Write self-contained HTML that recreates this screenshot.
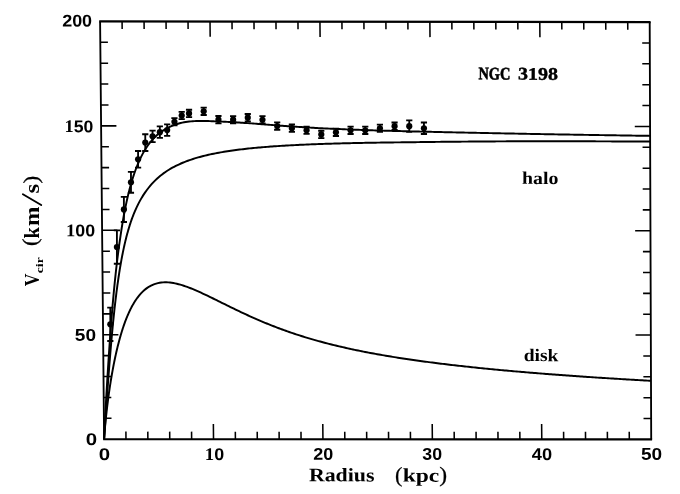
<!DOCTYPE html>
<html><head><meta charset="utf-8"><title>NGC 3198 rotation curve</title>
<style>html,body{margin:0;padding:0;background:#fff;}body{width:680px;height:494px;overflow:hidden;font-family:"Liberation Serif",serif;}svg{display:block;filter:blur(0.3px);}</style>
</head><body>
<svg width="680" height="494" viewBox="0 0 680 494">
<rect width="680" height="494" fill="#fff"/>
<g fill="none" stroke="#000" stroke-width="1.95" stroke-linejoin="miter">
<path d="M99.19999999999999,21.4 L650.6,22.1 M103.19999999999999,439.2 L652.1,439.4" stroke-width="2.15"/>
<path d="M100.1,21.4 L104.1,439.2 M649.7,22.1 L651.2,439.4" stroke-width="1.85"/>
<path d="M125.98,439.21 L125.91,431.61 M122.08,21.43 L122.16,29.03 M147.87,439.22 L147.80,431.62 M144.07,21.46 L144.14,29.06 M169.75,439.22 L169.68,431.62 M166.05,21.48 L166.12,29.08 M191.64,439.23 L191.56,431.63 M188.04,21.51 L188.11,29.11 M213.52,439.24 L213.37,423.94 M210.02,21.54 L210.17,36.84 M235.40,439.25 L235.33,431.65 M232.00,21.57 L232.08,29.17 M257.29,439.26 L257.22,431.66 M253.99,21.60 L254.06,29.20 M279.17,439.26 L279.10,431.66 M275.97,21.62 L276.04,29.22 M301.06,439.27 L300.98,431.67 M297.96,21.65 L298.03,29.25 M322.94,439.28 L322.79,423.98 M319.94,21.68 L320.09,36.98 M344.82,439.29 L344.75,431.69 M341.92,21.71 L342.00,29.31 M366.71,439.30 L366.64,431.70 M363.91,21.74 L363.98,29.34 M388.59,439.30 L388.52,431.70 M385.89,21.76 L385.96,29.36 M410.48,439.31 L410.40,431.71 M407.88,21.79 L407.95,29.39 M432.36,439.32 L432.21,424.02 M429.86,21.82 L430.01,37.12 M454.24,439.33 L454.17,431.73 M451.84,21.85 L451.92,29.45 M476.13,439.34 L476.06,431.74 M473.83,21.88 L473.90,29.48 M498.01,439.34 L497.94,431.74 M495.81,21.90 L495.88,29.50 M519.90,439.35 L519.82,431.75 M517.80,21.93 L517.87,29.53 M541.78,439.36 L541.63,424.06 M539.78,21.96 L539.93,37.26 M563.66,439.37 L563.59,431.77 M561.76,21.99 L561.84,29.59 M585.55,439.38 L585.48,431.78 M583.75,22.02 L583.82,29.62 M607.43,439.38 L607.36,431.78 M605.73,22.04 L605.80,29.64 M629.32,439.39 L629.24,431.79 M627.72,22.07 L627.79,29.67 M103.90,418.31 L111.50,418.31 M651.12,418.53 L643.52,418.53 M103.70,397.42 L111.30,397.42 M651.05,397.67 L643.45,397.67 M103.50,376.53 L111.10,376.53 M650.98,376.81 L643.38,376.81 M103.30,355.64 L110.90,355.64 M650.90,355.94 L643.30,355.94 M103.10,334.75 L118.40,334.75 M650.83,335.07 L635.53,335.07 M102.90,313.86 L110.50,313.86 M650.75,314.21 L643.15,314.21 M102.70,292.97 L110.30,292.97 M650.68,293.35 L643.08,293.35 M102.50,272.08 L110.10,272.08 M650.60,272.48 L643.00,272.48 M102.30,251.19 L109.90,251.19 M650.53,251.61 L642.93,251.61 M102.10,230.30 L117.40,230.30 M650.45,230.75 L635.15,230.75 M101.90,209.41 L109.50,209.41 M650.38,209.88 L642.77,209.88 M101.70,188.52 L109.30,188.52 M650.30,189.02 L642.70,189.02 M101.50,167.63 L109.10,167.63 M650.23,168.15 L642.62,168.15 M101.30,146.74 L108.90,146.74 M650.15,147.29 L642.55,147.29 M101.10,125.85 L116.40,125.85 M650.08,126.43 L634.78,126.43 M100.90,104.96 L108.50,104.96 M650.00,105.56 L642.40,105.56 M100.70,84.07 L108.30,84.07 M649.93,84.70 L642.33,84.70 M100.50,63.18 L108.10,63.18 M649.85,63.83 L642.25,63.83 M100.30,42.29 L107.90,42.29 M649.78,42.97 L642.18,42.97" stroke-width="1.55"/>
<path d="M104.10,439.20 L104.34,435.47 L104.58,432.28 L104.83,429.32 L105.07,426.52 L105.32,423.85 L105.57,421.29 L105.82,418.81 L106.07,416.41 L106.32,414.08 L106.57,411.82 L106.83,409.62 L107.08,407.47 L107.33,405.37 L107.59,403.32 L107.84,401.32 L108.10,399.35 L108.35,397.43 L108.61,395.55 L108.86,393.70 L109.12,391.89 L109.38,390.11 L109.63,388.37 L109.89,386.66 L110.15,384.97 L110.41,383.32 L110.67,381.70 L110.92,380.10 L111.18,378.53 L111.44,376.99 L111.70,375.47 L111.96,373.98 L112.22,372.51 L112.48,371.06 L112.74,369.64 L113.00,368.24 L113.26,366.86 L113.52,365.50 L113.78,364.16 L114.05,362.84 L114.31,361.54 L114.57,360.27 L114.83,359.01 L115.09,357.77 L115.36,356.54 L115.62,355.34 L115.88,354.15 L116.14,352.98 L116.41,351.83 L116.67,350.70 L116.93,349.58 L117.20,348.47 L117.46,347.38 L117.72,346.31 L117.99,345.26 L118.25,344.21 L118.52,343.19 L118.78,342.17 L119.04,341.17 L119.31,340.19 L119.57,339.22 L119.84,338.26 L120.10,337.32 L120.37,336.39 L120.63,335.47 L120.90,334.56 L121.16,333.67 L121.43,332.79 L121.70,331.93 L121.96,331.07 L122.23,330.23 L122.49,329.39 L122.76,328.57 L123.03,327.76 L123.29,326.97 L123.56,326.18 L123.83,325.40 L124.09,324.64 L124.36,323.88 L124.63,323.14 L124.89,322.41 L125.16,321.68 L125.43,320.97 L125.70,320.27 L125.96,319.57 L126.23,318.89 L126.50,318.22 L126.77,317.55 L127.03,316.90 L127.30,316.25 L127.57,315.61 L127.84,314.99 L128.11,314.37 L128.37,313.76 L128.64,313.15 L128.91,312.56 L129.18,311.98 L129.45,311.40 L129.72,310.83 L129.99,310.27 L130.25,309.72 L130.52,309.18 L130.79,308.64 L131.06,308.11 L131.33,307.59 L131.60,307.08 L131.87,306.57 L132.14,306.08 L132.41,305.59 L132.68,305.10 L132.95,304.63 L133.22,304.16 L133.49,303.70 L133.76,303.24 L134.03,302.79 L134.29,302.35 L134.56,301.92 L134.83,301.49 L135.10,301.07 L135.38,300.65 L135.65,300.24 L137.35,297.81 L139.05,295.62 L140.75,293.64 L142.46,291.87 L144.17,290.28 L145.88,288.88 L147.59,287.64 L149.30,286.55 L151.02,285.61 L152.73,284.81 L154.45,284.13 L156.17,283.57 L157.89,283.13 L159.61,282.78 L161.33,282.54 L163.05,282.38 L164.77,282.31 L166.49,282.32 L168.22,282.40 L169.94,282.55 L171.67,282.77 L173.39,283.04 L175.12,283.37 L176.84,283.75 L178.57,284.18 L180.30,284.65 L182.02,285.17 L183.75,285.72 L185.48,286.30 L187.21,286.92 L188.94,287.56 L190.66,288.24 L192.39,288.93 L194.12,289.65 L195.85,290.39 L197.58,291.15 L199.31,291.92 L201.04,292.71 L202.77,293.51 L204.50,294.32 L206.23,295.14 L207.96,295.97 L209.69,296.81 L211.42,297.65 L213.15,298.50 L214.88,299.35 L216.61,300.21 L218.34,301.06 L220.07,301.92 L221.80,302.78 L223.53,303.64 L225.25,304.49 L226.98,305.35 L228.71,306.20 L230.44,307.05 L232.17,307.89 L233.90,308.73 L235.63,309.57 L237.36,310.40 L239.09,311.23 L240.82,312.05 L242.55,312.86 L244.28,313.67 L246.00,314.47 L247.73,315.26 L249.46,316.05 L251.19,316.83 L252.92,317.60 L254.65,318.37 L256.38,319.13 L258.10,319.88 L259.83,320.62 L261.56,321.35 L263.29,322.08 L265.02,322.79 L266.74,323.50 L268.47,324.20 L270.20,324.90 L271.93,325.58 L273.65,326.26 L275.38,326.93 L277.11,327.59 L278.83,328.24 L280.56,328.88 L282.29,329.52 L284.01,330.14 L285.74,330.76 L287.47,331.37 L289.19,331.98 L290.92,332.57 L292.65,333.16 L294.37,333.74 L296.10,334.31 L297.83,334.87 L299.55,335.43 L301.28,335.98 L303.00,336.52 L304.73,337.06 L306.46,337.58 L308.18,338.10 L309.91,338.62 L311.63,339.12 L313.36,339.62 L315.08,340.12 L316.81,340.60 L318.53,341.08 L320.26,341.56 L321.98,342.02 L323.71,342.49 L325.44,342.94 L327.16,343.39 L328.88,343.83 L330.61,344.27 L332.33,344.70 L334.06,345.13 L335.78,345.55 L337.51,345.96 L339.23,346.37 L340.96,346.78 L342.68,347.17 L344.41,347.57 L346.13,347.96 L347.86,348.34 L349.58,348.72 L351.30,349.09 L353.03,349.46 L354.75,349.83 L356.48,350.19 L358.20,350.54 L359.92,350.90 L361.65,351.24 L363.37,351.59 L365.10,351.93 L366.82,352.26 L368.54,352.59 L370.27,352.92 L371.99,353.24 L373.72,353.56 L375.44,353.88 L377.16,354.19 L378.89,354.50 L380.61,354.80 L382.33,355.10 L384.06,355.40 L385.78,355.70 L387.50,355.99 L389.23,356.27 L390.95,356.56 L392.67,356.84 L394.40,357.12 L396.12,357.40 L397.84,357.67 L399.57,357.94 L401.29,358.21 L403.01,358.47 L404.74,358.73 L406.46,358.99 L408.18,359.25 L409.91,359.50 L411.63,359.75 L413.35,360.00 L415.07,360.25 L416.80,360.49 L418.52,360.73 L420.24,360.97 L421.97,361.21 L423.69,361.44 L425.41,361.67 L427.14,361.90 L428.86,362.13 L430.58,362.36 L432.30,362.58 L434.03,362.80 L435.75,363.02 L437.47,363.24 L439.19,363.45 L440.92,363.67 L442.64,363.88 L444.36,364.09 L446.08,364.29 L447.81,364.50 L449.53,364.70 L451.25,364.91 L452.97,365.11 L454.70,365.31 L456.42,365.50 L458.14,365.70 L459.86,365.89 L461.59,366.08 L463.31,366.27 L465.03,366.46 L466.75,366.65 L468.48,366.84 L470.20,367.02 L471.92,367.20 L473.64,367.39 L475.37,367.57 L477.09,367.74 L478.81,367.92 L480.53,368.10 L482.26,368.27 L483.98,368.45 L485.70,368.62 L487.42,368.79 L489.14,368.96 L490.87,369.12 L492.59,369.29 L494.31,369.46 L496.03,369.62 L497.76,369.78 L499.48,369.95 L501.20,370.11 L502.92,370.27 L504.64,370.42 L506.37,370.58 L508.09,370.74 L509.81,370.89 L511.53,371.05 L513.25,371.20 L514.98,371.35 L516.70,371.50 L518.42,371.65 L520.14,371.80 L521.86,371.95 L523.59,372.09 L525.31,372.24 L527.03,372.38 L528.75,372.53 L530.47,372.67 L532.20,372.81 L533.92,372.95 L535.64,373.09 L537.36,373.23 L539.08,373.37 L540.81,373.51 L542.53,373.64 L544.25,373.78 L545.97,373.91 L547.69,374.05 L549.41,374.18 L551.14,374.31 L552.86,374.44 L554.58,374.58 L556.30,374.71 L558.02,374.83 L559.75,374.96 L561.47,375.09 L563.19,375.22 L564.91,375.34 L566.63,375.47 L568.35,375.59 L570.08,375.71 L571.80,375.84 L573.52,375.96 L575.24,376.08 L576.96,376.20 L578.68,376.32 L580.41,376.44 L582.13,376.56 L583.85,376.68 L585.57,376.79 L587.29,376.91 L589.01,377.03 L590.74,377.14 L592.46,377.26 L594.18,377.37 L595.90,377.48 L597.62,377.60 L599.34,377.71 L601.07,377.82 L602.79,377.93 L604.51,378.04 L606.23,378.15 L607.95,378.26 L609.67,378.37 L611.40,378.48 L613.12,378.58 L614.84,378.69 L616.56,378.80 L618.28,378.90 L620.00,379.01 L621.72,379.11 L623.45,379.22 L625.17,379.32 L626.89,379.42 L628.61,379.52 L630.33,379.63 L632.05,379.73 L633.77,379.83 L635.50,379.93 L637.22,380.03 L638.94,380.13 L640.66,380.23 L642.38,380.32 L644.10,380.42 L645.83,380.52 L647.55,380.62 L649.27,380.71 L650.99,380.81"/>
<path d="M104.10,439.20 L104.34,435.65 L104.58,432.10 L104.82,428.55 L105.06,425.01 L105.30,421.48 L105.54,417.96 L105.78,414.45 L106.02,410.95 L106.26,407.47 L106.50,404.01 L106.74,400.56 L106.98,397.14 L107.22,393.74 L107.46,390.37 L107.71,387.02 L107.95,383.70 L108.19,380.41 L108.43,377.15 L108.68,373.92 L108.92,370.73 L109.16,367.57 L109.41,364.45 L109.65,361.36 L109.90,358.31 L110.14,355.30 L110.39,352.33 L110.63,349.39 L110.88,346.50 L111.13,343.64 L111.37,340.83 L111.62,338.05 L111.87,335.32 L112.12,332.63 L112.37,329.98 L112.62,327.37 L112.86,324.80 L113.11,322.27 L113.37,319.78 L113.62,317.33 L113.87,314.93 L114.12,312.56 L114.37,310.23 L114.62,307.94 L114.88,305.69 L115.13,303.48 L115.38,301.30 L115.64,299.17 L115.89,297.07 L116.14,295.01 L116.40,292.98 L116.65,290.99 L116.91,289.03 L117.17,287.11 L117.42,285.22 L117.68,283.36 L117.94,281.54 L118.19,279.75 L118.45,277.99 L118.71,276.26 L118.97,274.56 L119.22,272.90 L119.48,271.26 L119.74,269.65 L120.00,268.07 L120.26,266.51 L120.52,264.99 L120.78,263.49 L121.04,262.01 L121.30,260.57 L121.56,259.14 L121.82,257.74 L122.08,256.37 L122.35,255.02 L122.61,253.69 L122.87,252.39 L123.13,251.10 L123.39,249.84 L123.66,248.60 L123.92,247.38 L124.18,246.18 L124.45,245.02 L124.71,243.87 L124.97,242.74 L125.24,241.62 L125.50,240.53 L125.76,239.45 L126.03,238.40 L126.29,237.36 L126.56,236.33 L126.82,235.33 L127.09,234.34 L127.35,233.36 L127.62,232.40 L127.88,231.46 L128.15,230.53 L128.41,229.61 L128.68,228.71 L128.95,227.83 L129.21,226.96 L129.48,226.10 L129.74,225.25 L130.01,224.42 L130.28,223.60 L130.54,222.79 L130.81,222.00 L131.08,221.22 L131.35,220.44 L131.61,219.68 L131.88,218.94 L132.15,218.20 L132.41,217.47 L132.68,216.76 L132.95,216.05 L133.22,215.35 L133.49,214.67 L133.75,213.99 L134.02,213.33 L134.29,212.67 L134.56,212.02 L134.83,211.39 L136.52,207.57 L138.21,204.08 L139.90,200.86 L141.60,197.89 L143.30,195.15 L145.00,192.61 L146.70,190.22 L148.41,187.98 L150.11,185.88 L151.82,183.92 L153.53,182.09 L155.24,180.36 L156.95,178.75 L158.66,177.23 L160.37,175.79 L162.09,174.44 L163.80,173.16 L165.51,171.95 L167.23,170.81 L168.94,169.73 L170.66,168.70 L172.38,167.72 L174.09,166.79 L175.81,165.90 L177.53,165.06 L179.25,164.26 L180.96,163.49 L182.68,162.76 L184.40,162.06 L186.12,161.39 L187.84,160.75 L189.56,160.13 L191.28,159.55 L193.00,158.98 L194.72,158.44 L196.44,157.92 L198.16,157.42 L199.89,156.94 L201.61,156.48 L203.33,156.04 L205.05,155.61 L206.77,155.20 L208.49,154.80 L210.22,154.42 L211.94,154.05 L213.66,153.69 L215.38,153.35 L217.11,153.02 L218.83,152.70 L220.55,152.39 L222.27,152.09 L224.00,151.80 L225.72,151.52 L227.44,151.25 L229.17,150.98 L230.89,150.73 L232.61,150.48 L234.34,150.25 L236.06,150.01 L237.78,149.79 L239.51,149.57 L241.23,149.36 L242.95,149.16 L244.68,148.96 L246.40,148.77 L248.13,148.58 L249.85,148.40 L251.57,148.23 L253.30,148.05 L255.02,147.89 L256.75,147.73 L258.47,147.57 L260.20,147.42 L261.92,147.27 L263.64,147.13 L265.37,146.99 L267.09,146.85 L268.82,146.72 L270.54,146.59 L272.27,146.46 L273.99,146.34 L275.72,146.22 L277.44,146.10 L279.16,145.99 L280.89,145.88 L282.61,145.77 L284.34,145.67 L286.06,145.57 L287.79,145.47 L289.51,145.37 L291.24,145.28 L292.96,145.19 L294.69,145.10 L296.41,145.01 L298.14,144.93 L299.86,144.84 L301.59,144.76 L303.31,144.69 L305.04,144.61 L306.76,144.53 L308.49,144.46 L310.21,144.39 L311.94,144.32 L313.66,144.25 L315.39,144.19 L317.11,144.12 L318.84,144.06 L320.56,144.00 L322.29,143.94 L324.01,143.88 L325.74,143.83 L327.46,143.77 L329.19,143.72 L330.91,143.66 L332.64,143.61 L334.36,143.56 L336.09,143.51 L337.81,143.46 L339.54,143.42 L341.26,143.37 L342.99,143.33 L344.71,143.28 L346.44,143.24 L348.16,143.20 L349.89,143.16 L351.62,143.12 L353.34,143.08 L355.07,143.05 L356.79,143.01 L358.52,142.97 L360.24,142.94 L361.97,142.91 L363.69,142.87 L365.42,142.84 L367.14,142.81 L368.87,142.78 L370.59,142.75 L372.32,142.72 L374.04,142.69 L375.77,142.66 L377.50,142.64 L379.22,142.61 L380.95,142.59 L382.67,142.56 L384.40,142.54 L386.12,142.51 L387.85,142.49 L389.57,142.47 L391.30,142.45 L393.02,142.42 L394.75,142.40 L396.47,142.38 L398.20,142.36 L399.93,142.35 L401.65,142.33 L403.38,142.31 L405.10,142.29 L406.83,142.27 L408.55,142.26 L410.28,142.23 L412.00,142.21 L413.73,142.18 L415.45,142.16 L417.18,142.14 L418.91,142.11 L420.63,142.09 L422.36,142.07 L424.08,142.04 L425.81,142.02 L427.53,142.00 L429.26,141.98 L430.98,141.96 L432.71,141.94 L434.43,141.92 L436.16,141.90 L437.89,141.88 L439.61,141.86 L441.34,141.84 L443.06,141.83 L444.79,141.81 L446.51,141.79 L448.24,141.77 L449.96,141.76 L451.69,141.74 L453.41,141.72 L455.14,141.71 L456.87,141.69 L458.59,141.68 L460.32,141.66 L462.04,141.65 L463.77,141.63 L465.49,141.62 L467.22,141.60 L468.94,141.59 L470.67,141.58 L472.39,141.56 L474.12,141.55 L475.85,141.54 L477.57,141.52 L479.30,141.51 L481.02,141.50 L482.75,141.49 L484.47,141.47 L486.20,141.46 L487.92,141.45 L489.65,141.44 L491.38,141.43 L493.10,141.42 L494.83,141.41 L496.55,141.40 L498.28,141.39 L500.00,141.38 L501.73,141.37 L503.45,141.36 L505.18,141.35 L506.91,141.34 L508.63,141.33 L510.36,141.32 L512.08,141.31 L513.81,141.30 L515.53,141.29 L517.26,141.29 L518.98,141.28 L520.71,141.27 L522.43,141.26 L524.16,141.25 L525.89,141.25 L527.61,141.24 L529.34,141.23 L531.06,141.22 L532.79,141.22 L534.51,141.21 L536.24,141.20 L537.96,141.20 L539.69,141.19 L541.42,141.19 L543.14,141.19 L544.87,141.20 L546.59,141.20 L548.32,141.20 L550.04,141.21 L551.77,141.21 L553.50,141.22 L555.22,141.22 L556.95,141.22 L558.67,141.23 L560.40,141.23 L562.12,141.24 L563.85,141.24 L565.57,141.25 L567.30,141.25 L569.03,141.26 L570.75,141.26 L572.48,141.27 L574.20,141.27 L575.93,141.28 L577.65,141.28 L579.38,141.29 L581.10,141.29 L582.83,141.30 L584.56,141.30 L586.28,141.31 L588.01,141.31 L589.73,141.32 L591.46,141.33 L593.18,141.33 L594.91,141.34 L596.64,141.35 L598.36,141.35 L600.09,141.36 L601.81,141.36 L603.54,141.37 L605.26,141.38 L606.99,141.38 L608.71,141.39 L610.44,141.40 L612.17,141.40 L613.89,141.41 L615.62,141.42 L617.34,141.43 L619.07,141.43 L620.79,141.44 L622.52,141.45 L624.25,141.45 L625.97,141.46 L627.70,141.47 L629.42,141.48 L631.15,141.48 L632.87,141.49 L634.60,141.50 L636.32,141.51 L638.05,141.51 L639.78,141.52 L641.50,141.53 L643.23,141.54 L644.95,141.55 L646.68,141.55 L648.40,141.56 L650.13,141.57"/>
<path d="M104.10,439.20 L104.32,434.07 L104.55,429.32 L104.78,424.73 L105.01,420.25 L105.24,415.86 L105.48,411.53 L105.71,407.27 L105.94,403.06 L106.18,398.91 L106.41,394.81 L106.65,390.75 L106.88,386.75 L107.12,382.79 L107.35,378.88 L107.59,375.01 L107.83,371.19 L108.07,367.42 L108.30,363.69 L108.54,360.00 L108.78,356.37 L109.02,352.78 L109.26,349.23 L109.50,345.74 L109.74,342.29 L109.99,338.88 L110.23,335.53 L110.47,332.22 L110.71,328.96 L110.96,325.74 L111.20,322.57 L111.44,319.45 L111.69,316.38 L111.93,313.38 L112.18,310.42 L112.43,307.51 L112.67,304.65 L112.92,301.83 L113.17,299.06 L113.42,296.33 L113.67,293.65 L113.91,291.01 L114.16,288.41 L114.41,285.86 L114.66,283.35 L114.92,280.88 L115.17,278.45 L115.42,276.07 L115.67,273.72 L115.92,271.41 L116.17,269.14 L116.43,266.92 L116.68,264.72 L116.94,262.57 L117.19,260.45 L117.44,258.37 L117.70,256.33 L117.95,254.32 L118.21,252.34 L118.47,250.40 L118.72,248.49 L118.98,246.61 L119.23,244.77 L119.49,242.95 L119.75,241.17 L120.01,239.35 L120.26,237.55 L120.52,235.79 L120.78,234.05 L121.04,232.34 L121.30,230.66 L121.55,229.01 L121.81,227.38 L122.07,225.78 L122.33,224.21 L122.59,222.66 L122.85,221.13 L123.11,219.63 L123.37,218.15 L123.63,216.70 L123.89,215.27 L124.15,213.86 L124.42,212.47 L124.68,211.11 L124.94,209.76 L125.20,208.44 L125.46,207.14 L125.73,205.85 L125.99,204.59 L126.25,203.35 L126.51,202.12 L126.78,200.91 L127.04,199.73 L127.30,198.56 L127.57,197.40 L127.83,196.27 L128.09,195.15 L128.36,194.06 L128.62,192.98 L128.89,191.92 L129.15,190.88 L129.42,189.86 L129.68,188.84 L129.95,187.85 L130.21,186.86 L130.48,185.90 L130.74,184.94 L131.01,184.00 L131.27,183.08 L131.54,182.16 L131.81,181.27 L132.07,180.38 L132.34,179.50 L132.60,178.64 L132.87,177.79 L133.14,176.96 L133.40,176.13 L133.67,175.32 L133.94,174.52 L134.21,173.73 L134.47,172.95 L136.15,168.29 L137.84,164.02 L139.53,160.10 L141.22,156.58 L142.92,153.37 L144.62,150.42 L146.32,147.71 L148.02,145.23 L149.73,142.95 L151.43,140.86 L153.14,138.94 L154.85,137.17 L156.56,135.56 L158.27,134.07 L159.99,132.72 L161.70,131.47 L163.42,130.34 L165.13,129.30 L166.85,128.35 L168.57,127.45 L170.29,126.63 L172.01,125.88 L173.73,125.20 L175.45,124.58 L177.17,124.02 L178.89,123.51 L180.61,123.05 L182.33,122.64 L184.06,122.27 L185.78,121.95 L187.50,121.72 L189.23,121.53 L190.95,121.36 L192.68,121.23 L194.40,121.12 L196.13,121.04 L197.85,120.98 L199.58,120.94 L201.30,120.93 L203.03,120.94 L204.76,120.96 L206.48,121.00 L208.21,121.05 L209.94,121.12 L211.66,121.20 L213.39,121.29 L215.12,121.38 L216.84,121.47 L218.57,121.52 L220.30,121.58 L222.02,121.64 L223.75,121.71 L225.48,121.78 L227.20,121.86 L228.93,121.94 L230.66,122.03 L232.38,122.12 L234.11,122.22 L235.84,122.33 L237.56,122.45 L239.29,122.56 L241.02,122.68 L242.74,122.80 L244.47,122.91 L246.20,123.03 L247.92,123.15 L249.65,123.27 L251.38,123.39 L253.10,123.51 L254.83,123.63 L256.56,123.77 L258.28,123.91 L260.01,124.06 L261.74,124.20 L263.47,124.34 L265.19,124.48 L266.92,124.61 L268.65,124.75 L270.37,124.89 L272.10,125.02 L273.83,125.15 L275.55,125.29 L277.28,125.42 L279.01,125.55 L280.74,125.67 L282.46,125.80 L284.19,125.92 L285.92,126.05 L287.64,126.17 L289.37,126.29 L291.10,126.41 L292.82,126.53 L294.55,126.64 L296.28,126.76 L298.00,126.87 L299.73,126.98 L301.46,127.09 L303.18,127.20 L304.91,127.31 L306.64,127.42 L308.36,127.52 L310.09,127.63 L311.82,127.73 L313.54,127.83 L315.27,127.93 L317.00,128.03 L318.72,128.13 L320.45,128.22 L322.17,128.31 L323.90,128.39 L325.63,128.47 L327.35,128.55 L329.08,128.63 L330.81,128.71 L332.53,128.78 L334.26,128.86 L335.99,128.93 L337.71,129.01 L339.44,129.08 L341.16,129.15 L342.89,129.22 L344.62,129.29 L346.34,129.36 L348.07,129.43 L349.80,129.50 L351.52,129.56 L353.25,129.63 L354.97,129.69 L356.70,129.76 L358.43,129.82 L360.15,129.88 L361.88,129.94 L363.61,130.00 L365.33,130.06 L367.06,130.12 L368.78,130.18 L370.51,130.24 L372.24,130.30 L373.96,130.35 L375.69,130.41 L377.42,130.46 L379.14,130.51 L380.87,130.56 L382.59,130.62 L384.32,130.67 L386.05,130.71 L387.77,130.76 L389.50,130.81 L391.22,130.86 L392.95,130.91 L394.68,130.95 L396.40,131.00 L398.13,131.04 L399.85,131.09 L401.58,131.14 L403.31,131.18 L405.03,131.22 L406.76,131.27 L408.48,131.31 L410.21,131.35 L411.94,131.40 L413.66,131.44 L415.39,131.48 L417.11,131.52 L418.84,131.56 L420.57,131.60 L422.29,131.64 L424.02,131.68 L425.74,131.72 L427.47,131.76 L429.20,131.80 L430.92,131.84 L432.65,131.88 L434.37,131.92 L436.10,131.96 L437.83,132.00 L439.55,132.04 L441.28,132.08 L443.00,132.12 L444.73,132.16 L446.46,132.20 L448.18,132.24 L449.91,132.28 L451.63,132.31 L453.36,132.35 L455.09,132.39 L456.81,132.43 L458.54,132.47 L460.26,132.50 L461.99,132.54 L463.72,132.58 L465.44,132.61 L467.17,132.65 L468.89,132.68 L470.62,132.72 L472.35,132.76 L474.07,132.79 L475.80,132.83 L477.52,132.86 L479.25,132.90 L480.98,132.93 L482.70,132.96 L484.43,133.00 L486.15,133.03 L487.88,133.07 L489.61,133.10 L491.33,133.14 L493.06,133.18 L494.78,133.21 L496.51,133.25 L498.23,133.28 L499.96,133.32 L501.69,133.35 L503.41,133.38 L505.14,133.42 L506.86,133.45 L508.59,133.49 L510.32,133.52 L512.04,133.55 L513.77,133.59 L515.49,133.62 L517.22,133.65 L518.95,133.69 L520.67,133.72 L522.40,133.75 L524.12,133.78 L525.85,133.82 L527.58,133.85 L529.30,133.88 L531.03,133.91 L532.75,133.95 L534.48,133.98 L536.20,134.01 L537.93,134.04 L539.66,134.07 L541.38,134.10 L543.11,134.13 L544.83,134.17 L546.56,134.20 L548.29,134.23 L550.01,134.26 L551.74,134.29 L553.46,134.32 L555.19,134.35 L556.91,134.38 L558.64,134.41 L560.37,134.44 L562.09,134.47 L563.82,134.50 L565.54,134.53 L567.27,134.56 L569.00,134.59 L570.72,134.62 L572.45,134.64 L574.17,134.67 L575.90,134.70 L577.63,134.73 L579.35,134.76 L581.08,134.79 L582.80,134.82 L584.53,134.85 L586.25,134.87 L587.98,134.90 L589.71,134.93 L591.43,134.96 L593.16,134.99 L594.88,135.01 L596.61,135.04 L598.33,135.07 L600.06,135.10 L601.79,135.13 L603.51,135.15 L605.24,135.18 L606.96,135.21 L608.69,135.23 L610.42,135.26 L612.14,135.29 L613.87,135.32 L615.59,135.34 L617.32,135.37 L619.04,135.40 L620.77,135.42 L622.50,135.45 L624.22,135.47 L625.95,135.50 L627.67,135.53 L629.40,135.55 L631.13,135.58 L632.85,135.61 L634.58,135.63 L636.30,135.66 L638.03,135.68 L639.75,135.71 L641.48,135.73 L643.21,135.76 L644.93,135.79 L646.66,135.81 L648.38,135.84 L650.11,135.86"/>
</g>
<path d="M110.32,307.60 L110.32,341.02 M107.22,307.60 L113.42,307.60 M107.22,341.02 L113.42,341.02 M116.91,230.31 L116.91,263.73 M113.81,230.31 L120.01,230.31 M113.81,263.73 L120.01,263.73 M123.89,196.90 L123.89,221.96 M120.79,196.90 L126.99,196.90 M120.79,221.96 L126.99,221.96 M130.97,171.84 L130.97,192.72 M127.87,171.84 L134.07,171.84 M127.87,192.72 L134.07,192.72 M138.09,150.95 L138.09,167.67 M134.99,150.95 L141.19,150.95 M134.99,167.67 L141.19,167.67 M145.27,134.25 L145.27,150.96 M142.17,134.25 L148.37,134.25 M142.17,150.96 L148.37,150.96 M152.55,130.58 L152.55,142.11 M149.45,130.58 L155.65,130.58 M149.45,142.11 L155.65,142.11 M159.85,126.41 L159.85,137.94 M156.75,126.41 L162.95,126.41 M156.75,137.94 L162.95,137.94 M167.17,124.33 L167.17,135.86 M164.07,124.33 L170.27,124.33 M164.07,135.86 L170.27,135.86 M174.43,118.07 L174.43,125.43 M171.33,118.07 L177.53,118.07 M171.33,125.43 L177.53,125.43 M181.72,111.81 L181.72,119.17 M178.62,111.81 L184.82,111.81 M178.62,119.17 L184.82,119.17 M189.04,109.73 L189.04,117.09 M185.94,109.73 L192.14,109.73 M185.94,117.09 L192.14,117.09 M203.70,107.66 L203.70,115.01 M200.60,107.66 L206.80,107.66 M200.60,115.01 L206.80,115.01 M218.44,116.03 L218.44,123.38 M215.34,116.03 L221.54,116.03 M215.34,123.38 L221.54,123.38 M233.12,116.05 L233.12,123.40 M230.02,116.05 L236.22,116.05 M230.02,123.40 L236.22,123.40 M247.77,113.97 L247.77,121.33 M244.67,113.97 L250.87,113.97 M244.67,121.33 L250.87,121.33 M262.47,116.08 L262.47,123.43 M259.37,116.08 L265.57,116.08 M259.37,123.43 L265.57,123.43 M277.19,122.36 L277.19,129.71 M274.09,122.36 L280.29,122.36 M274.09,129.71 L280.29,129.71 M291.88,124.46 L291.88,131.81 M288.78,124.46 L294.98,124.46 M288.78,131.81 L294.98,131.81 M306.57,126.57 L306.57,133.92 M303.47,126.57 L309.67,126.57 M303.47,133.92 L309.67,133.92 M321.27,130.76 L321.27,138.11 M318.17,130.76 L324.37,130.76 M318.17,138.11 L324.37,138.11 M335.93,128.68 L335.93,136.04 M332.83,128.68 L339.03,128.68 M332.83,136.04 L339.03,136.04 M350.59,126.61 L350.59,133.96 M347.49,126.61 L353.69,126.61 M347.49,133.96 L353.69,133.96 M365.26,126.63 L365.26,133.98 M362.16,126.63 L368.36,126.63 M362.16,133.98 L368.36,133.98 M379.92,124.55 L379.92,131.91 M376.82,124.55 L383.02,124.55 M376.82,131.91 L383.02,131.91 M394.58,122.48 L394.58,129.83 M391.48,122.48 L397.68,122.48 M391.48,129.83 L397.68,129.83 M409.26,120.41 L409.26,131.94 M406.16,120.41 L412.36,120.41 M406.16,131.94 L412.36,131.94 M423.94,122.51 L423.94,134.04 M420.84,122.51 L427.04,122.51 M420.84,134.04 L427.04,134.04" fill="none" stroke="#000" stroke-width="1.85"/>
<g fill="#000"><circle cx="110.32" cy="324.31" r="3.1"/><circle cx="116.91" cy="247.02" r="3.1"/><circle cx="123.89" cy="209.43" r="3.1"/><circle cx="130.97" cy="182.28" r="3.1"/><circle cx="138.09" cy="159.31" r="3.1"/><circle cx="145.27" cy="142.61" r="3.1"/><circle cx="152.55" cy="136.35" r="3.1"/><circle cx="159.85" cy="132.18" r="3.1"/><circle cx="167.17" cy="130.10" r="3.1"/><circle cx="174.43" cy="121.75" r="3.1"/><circle cx="181.72" cy="115.49" r="3.1"/><circle cx="189.04" cy="113.41" r="3.1"/><circle cx="203.70" cy="111.34" r="3.1"/><circle cx="218.44" cy="119.71" r="3.1"/><circle cx="233.12" cy="119.72" r="3.1"/><circle cx="247.77" cy="117.65" r="3.1"/><circle cx="262.47" cy="119.75" r="3.1"/><circle cx="277.19" cy="126.03" r="3.1"/><circle cx="291.88" cy="128.14" r="3.1"/><circle cx="306.57" cy="130.24" r="3.1"/><circle cx="321.27" cy="134.43" r="3.1"/><circle cx="335.93" cy="132.36" r="3.1"/><circle cx="350.59" cy="130.29" r="3.1"/><circle cx="365.26" cy="130.30" r="3.1"/><circle cx="379.92" cy="128.23" r="3.1"/><circle cx="394.58" cy="126.16" r="3.1"/><circle cx="409.26" cy="126.17" r="3.1"/><circle cx="423.94" cy="128.28" r="3.1"/></g>
<g fill="#000">
<text transform="rotate(0.2 62.16 26.44)" x="62.16" y="26.44" font-family="'Liberation Sans', serif" font-size="17.0" font-weight="bold" textLength="29.93" lengthAdjust="spacingAndGlyphs">200</text>
<text transform="rotate(0.2 64.59 132.14)" x="64.59" y="132.14" font-family="'Liberation Sans', serif" font-size="17.0" font-weight="bold" textLength="28.76" lengthAdjust="spacingAndGlyphs"><tspan font-family="'Liberation Serif'" font-size="17.8">1</tspan>50</text>
<text transform="rotate(0.2 65.99 236.24)" x="65.99" y="236.24" font-family="'Liberation Sans', serif" font-size="17.0" font-weight="bold" textLength="29.09" lengthAdjust="spacingAndGlyphs"><tspan font-family="'Liberation Serif'" font-size="17.8">1</tspan>00</text>
<text transform="rotate(0.2 74.87 340.84)" x="74.87" y="340.84" font-family="'Liberation Sans', serif" font-size="17.0" font-weight="bold" textLength="21.16" lengthAdjust="spacingAndGlyphs">50</text>
<text transform="rotate(0.2 85.83 444.96)" x="85.83" y="444.96" font-family="'Liberation Sans', serif" font-size="17.0" font-weight="bold" textLength="11.36" lengthAdjust="spacingAndGlyphs">0</text>
<text transform="rotate(0.2 98.87 459.91)" x="98.87" y="459.91" font-family="'Liberation Sans', serif" font-size="17.0" font-weight="bold" textLength="11.36" lengthAdjust="spacingAndGlyphs">0</text>
<text transform="rotate(0.2 204.87 459.91)" x="204.87" y="459.91" font-family="'Liberation Sans', serif" font-size="17.0" font-weight="bold" textLength="19.29" lengthAdjust="spacingAndGlyphs"><tspan font-family="'Liberation Serif'" font-size="17.8">1</tspan>0</text>
<text transform="rotate(0.2 313.26 459.75)" x="313.26" y="459.75" font-family="'Liberation Sans', serif" font-size="17.0" font-weight="bold" textLength="19.96" lengthAdjust="spacingAndGlyphs">20</text>
<text transform="rotate(0.2 422.39 459.72)" x="422.39" y="459.72" font-family="'Liberation Sans', serif" font-size="17.0" font-weight="bold" textLength="19.71" lengthAdjust="spacingAndGlyphs">30</text>
<text transform="rotate(0.2 531.76 459.99)" x="531.76" y="459.99" font-family="'Liberation Sans', serif" font-size="17.0" font-weight="bold" textLength="20.27" lengthAdjust="spacingAndGlyphs">40</text>
<text transform="rotate(0.2 640.98 459.84)" x="640.98" y="459.84" font-family="'Liberation Sans', serif" font-size="17.0" font-weight="bold" textLength="21.14" lengthAdjust="spacingAndGlyphs">50</text>
<text transform="rotate(0.2 478.42 79.38)" x="478.42" y="79.38" font-family="'Liberation Serif', serif" font-size="17.7" font-weight="bold" textLength="31.89" lengthAdjust="spacingAndGlyphs" stroke="#000" stroke-width="0.6">NGC</text>
<text transform="rotate(0.2 518.05 79.61)" x="518.05" y="79.61" font-family="'Liberation Serif', serif" font-size="17.7" font-weight="bold" textLength="39.84" lengthAdjust="spacingAndGlyphs" stroke="#000" stroke-width="0.4">3198</text>
<text transform="rotate(0.2 522.03 183.88)" x="522.03" y="183.88" font-family="'Liberation Serif', serif" font-size="17.7" font-weight="bold" textLength="36.34" lengthAdjust="spacingAndGlyphs">halo</text>
<text transform="rotate(0.2 523.72 361.07)" x="523.72" y="361.07" font-family="'Liberation Serif', serif" font-size="17.7" font-weight="bold" textLength="34.76" lengthAdjust="spacingAndGlyphs">disk</text>
<text transform="rotate(0.2 308.91 481.20)" x="308.91" y="481.20" font-family="'Liberation Serif', serif" font-size="19" font-weight="bold" textLength="65.55" lengthAdjust="spacingAndGlyphs">Radius</text>
<text transform="rotate(0.2 394.95 481.94)" x="394.95" y="481.94" font-family="'Liberation Serif', serif" font-size="21.5" font-weight="normal" textLength="7.40" lengthAdjust="spacingAndGlyphs" stroke="#000" stroke-width="0.25">(</text>
<text transform="rotate(0.2 402.71 481.60)" x="402.71" y="481.60" font-family="'Liberation Serif', serif" font-size="19" font-weight="bold" textLength="36.53" lengthAdjust="spacingAndGlyphs">kpc</text>
<text transform="rotate(0.2 439.17 481.87)" x="439.17" y="481.87" font-family="'Liberation Serif', serif" font-size="21.5" font-weight="normal" textLength="7.85" lengthAdjust="spacingAndGlyphs" stroke="#000" stroke-width="0.25">)</text>
<text transform="translate(39.11,286.31) rotate(-90)" font-family="'Liberation Serif', serif" font-size="20.5" font-weight="bold" textLength="12.65" lengthAdjust="spacingAndGlyphs">V</text>
<text transform="translate(43.10,273.23) rotate(-90)" font-family="'Liberation Serif', serif" font-size="10.5" font-weight="bold" textLength="15.95" lengthAdjust="spacingAndGlyphs">cir</text>
<text transform="translate(37.18,245.92) rotate(-90)" font-family="'Liberation Serif', serif" font-size="21.5" font-weight="normal" textLength="7.58" lengthAdjust="spacingAndGlyphs" stroke="#000" stroke-width="0.25">(</text>
<text transform="translate(38.90,238.44) rotate(-90)" font-family="'Liberation Serif', serif" font-size="20.5" font-weight="bold" textLength="11.24" lengthAdjust="spacingAndGlyphs">k</text>
<text transform="translate(38.90,226.08) rotate(-90)" font-family="'Liberation Serif', serif" font-size="20.5" font-weight="bold" textLength="19.34" lengthAdjust="spacingAndGlyphs">m</text>
<text transform="translate(38.70,193.47) rotate(-90)" font-family="'Liberation Serif', serif" font-size="20.5" font-weight="bold" textLength="9.66" lengthAdjust="spacingAndGlyphs">s</text>
<text transform="translate(37.55,183.47) rotate(-90)" font-family="'Liberation Serif', serif" font-size="21.5" font-weight="normal" textLength="7.76" lengthAdjust="spacingAndGlyphs" stroke="#000" stroke-width="0.25">)</text>
<path d="M22.9,194.2 L41.2,205.0" stroke="#000" stroke-width="1.9" stroke-linecap="round" fill="none"/>
</g>
</svg>
</body></html>
